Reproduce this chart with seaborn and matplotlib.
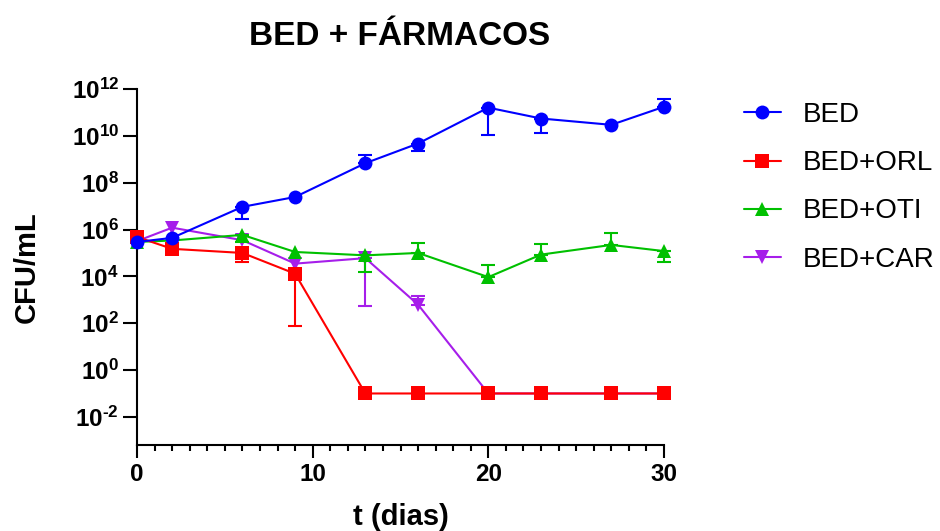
import numpy as np
import pandas as pd
import matplotlib
matplotlib.use("Agg")
import matplotlib.pyplot as plt
import seaborn as sns
from matplotlib.ticker import NullLocator, MultipleLocator, FixedLocator, FixedFormatter

# ---------------- data (CFU/mL) ----------------
days = [0, 2, 6, 9, 13, 16, 20, 23, 27, 30]

bed = [2.95e5, 4.4e5, 9.3e6, 2.45e7, 6.8e8, 4.7e9, 1.6e11, 5.5e10, 2.95e10, 1.74e11]
orl = [4.8e5, 1.5e5, 1.0e5, 1.3e4, 0.1, 0.1, 0.1, 0.1, 0.1, 0.1]
oti = [2.95e5, 3.4e5, 5.9e5, 1.1e5, 7.9e4, 1.0e5, 9.3e3, 8.5e4, 2.2e5, 1.2e5]
car = [3.2e5, 1.2e6, 3.5e5, 3.5e4, 6.0e4, 6.2e2, 0.1, 0.1, 0.1, 0.1]

nan = np.nan
# error bar end points (nan = no visible bar on that side)
bed_lo = [nan, nan, 2.9e6, nan, nan, 2.3e9, 1.1e10, 1.26e10, nan, nan]
bed_hi = [nan, nan, nan, nan, 1.5e9, nan, nan, nan, nan, 3.7e11]
orl_lo = [nan, nan, 4.1e4, 78, nan, nan, nan, nan, nan, nan]
orl_hi = [nan] * 10
oti_lo = [nan, nan, 2.8e5, nan, 1.6e4, nan, nan, nan, nan, 4.1e4]
oti_hi = [nan, nan, nan, nan, nan, 2.6e5, 3.0e4, 2.3e5, 6.9e5, nan]
car_lo = [nan, nan, nan, nan, 5.4e2, nan, nan, nan, nan, nan]
car_hi = [nan, nan, nan, nan, nan, 1.5e3, nan, nan, nan, nan]

names = ["BED", "BED+ORL", "BED+OTI", "BED+CAR"]
colors = ["#0000FF", "#FF0000", "#00C000", "#A61EEA"]
markers = ["o", "s", "^", "v"]

ytick_exp = [-2, 0, 2, 4, 6, 8, 10, 12]
xticks = [0, 10, 20, 30]

title = "BED + FÁRMACOS"
xlabel = "t (dias)"
ylabel = "CFU/mL"

# ---------------- style ----------------
sns.set_theme(style="ticks")
plt.rcParams["font.family"] = ["Liberation Sans", "DejaVu Sans"]
plt.rcParams.update({
    "mathtext.fontset": "custom",
    "mathtext.rm": "Liberation Sans",
    "mathtext.bf": "Liberation Sans:bold",
    "mathtext.it": "Liberation Sans:italic",
    "text.color": "black",
    "axes.labelcolor": "black",
    "axes.edgecolor": "black",
    "xtick.color": "black",
    "ytick.color": "black",
})

fig = plt.figure(figsize=(9.4, 5.31), dpi=100)
ax = fig.add_axes([137 / 940, 1 - 445 / 531, 527 / 940, 356 / 531])
ax.set_yscale("log")

series = [
    (names[0], bed, bed_lo, bed_hi),
    (names[1], orl, orl_lo, orl_hi),
    (names[2], oti, oti_lo, oti_hi),
    (names[3], car, car_lo, car_hi),
]

for i in reversed(range(len(series))):
    name, vals, lo, hi = series[i]
    z = 5 - i
    df = pd.DataFrame({"t": days, "cfu": vals})
    sns.lineplot(data=df, x="t", y="cfu", ax=ax, color=colors[i], marker=markers[i],
                 markersize=10, markeredgewidth=0, linewidth=1.5, label=name,
                 errorbar=None, zorder=z, clip_on=False)
    v = np.array(vals, dtype=float)
    lo_a = np.array(lo, dtype=float)
    hi_a = np.array(hi, dtype=float)
    dlo = np.where(np.isnan(lo_a), 0.0, v - lo_a)
    dhi = np.where(np.isnan(hi_a), 0.0, hi_a - v)
    mask = (dlo > 0) | (dhi > 0)
    if mask.any():
        eb = ax.errorbar(np.array(days)[mask], v[mask], yerr=[dlo[mask], dhi[mask]],
                         fmt="none", ecolor=colors[i], elinewidth=1.5, capsize=5,
                         capthick=1.5, zorder=z - 0.5)
        for art in eb.lines[1]:
            art.set_clip_on(False)
        for art in eb.lines[2]:
            art.set_clip_on(False)

# ---------------- axes ----------------
ax.set_xlim(0, 30)
ax.set_ylim(10 ** -3.2, 1e12)
ax.yaxis.set_major_locator(FixedLocator([10.0 ** e for e in ytick_exp]))
ax.yaxis.set_major_formatter(FixedFormatter(
    [r"$\mathbf{10^{%s}}$" % str(e).replace("-", "\u2010") for e in ytick_exp]))
ax.yaxis.set_minor_locator(NullLocator())
ax.set_xticks(xticks, labels=[str(x) for x in xticks], fontweight="bold")
ax.xaxis.set_minor_locator(MultipleLocator(1))

for s in ["top", "right"]:
    ax.spines[s].set_visible(False)
for s in ["left", "bottom"]:
    ax.spines[s].set_linewidth(1.5)
    ax.spines[s].set_color("black")

ax.tick_params(axis="y", which="major", length=10, width=1.5, pad=3, labelsize=17.5)
ax.tick_params(axis="x", which="major", length=9, width=1.5, pad=4, labelsize=17.5)
ax.tick_params(axis="x", which="minor", length=4.5, width=1.5)

ax.set_xlabel(xlabel, fontsize=21, fontweight="bold")
ax.xaxis.set_label_coords(0.5, -0.163)
ax.set_ylabel(ylabel, fontsize=21, fontweight="bold")
ax.yaxis.set_label_coords(-0.182, 0.5)

fig.text(400 / 940, 1 - 45 / 531, title, ha="center", va="baseline",
         fontsize=24, fontweight="bold")

handles, labels = ax.get_legend_handles_labels()
order = [labels.index(n) for n in names]
ax.legend([handles[k] for k in order], [labels[k] for k in order],
          loc="upper left", bbox_to_anchor=(744 / 940, 1 - 102 / 531),
          bbox_transform=fig.transFigure, frameon=False, fontsize=20,
          handlelength=1.33, handletextpad=0.8, labelspacing=0.8,
          borderpad=0, borderaxespad=0)

fig.savefig("out.png", dpi=100)
